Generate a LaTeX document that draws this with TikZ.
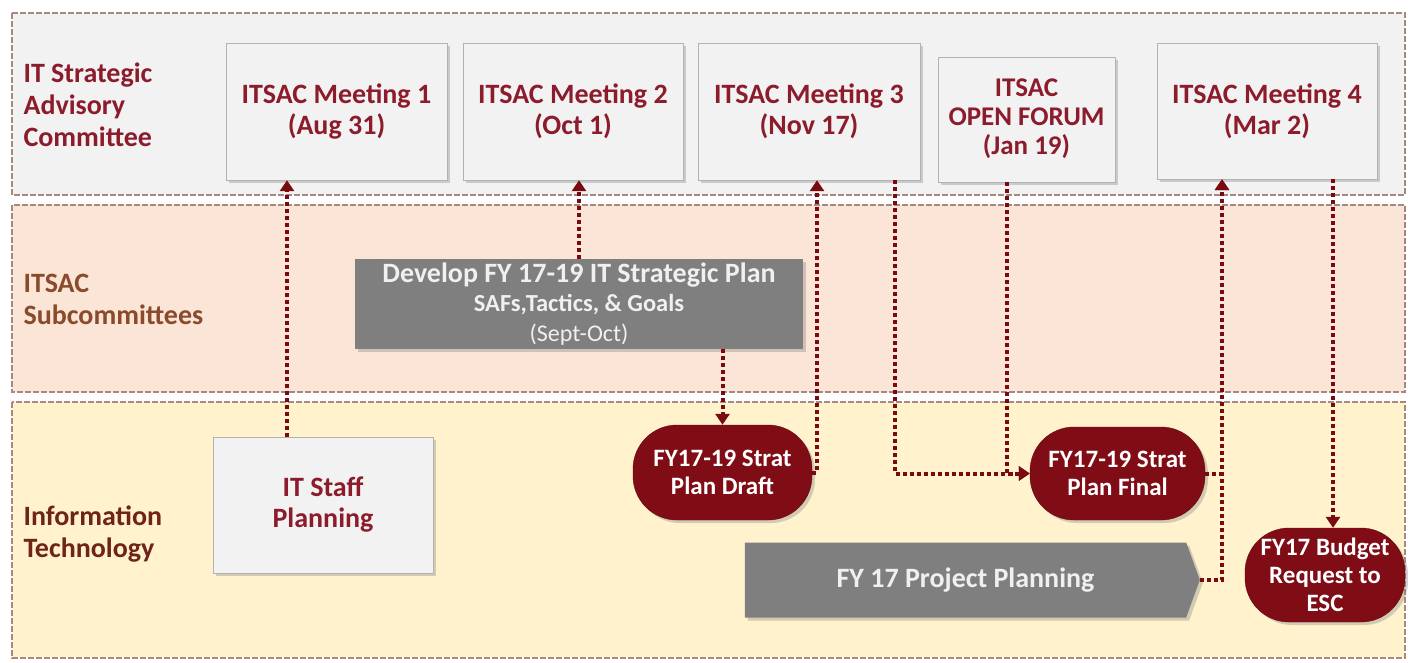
\documentclass[tikz,border=0pt]{standalone}
\usepackage{fontspec}
\setmainfont{Carlito}
\usetikzlibrary{shapes.symbols,arrows.meta,shadows}
\definecolor{lanegrey}{HTML}{F2F2F2}
\definecolor{lanepeach}{HTML}{FBE5D6}
\definecolor{laneyellow}{HTML}{FFF2CC}
\definecolor{laneline}{HTML}{A68A82}
\definecolor{itsacred}{HTML}{8C1C2C}
\definecolor{subbrown}{HTML}{8A4A2C}
\definecolor{itbrown}{HTML}{6E2418}
\definecolor{pillred}{HTML}{800C16}
\definecolor{flowred}{HTML}{780A10}
\definecolor{boxgrey}{HTML}{7F7F7F}

\begin{document}
\begin{tikzpicture}[x=1pt, y=-1pt,
  lane/.style={draw=laneline, line width=1.5pt, dash pattern=on 6pt off 2pt},
  lanelabel/.style={anchor=west, align=left, font=\fontsize{28}{32}\selectfont\bfseries},
  boxshadow/.style={drop shadow={shadow xshift=3pt, shadow yshift=-3pt, opacity=0.35}},
  meetbox/.style={rectangle, draw=black!30, fill=lanegrey, text=itsacred, align=center,
    inner sep=0pt, font=\fontsize{28}{31}\selectfont\bfseries, boxshadow},
  redpill/.style={rectangle, rounded corners=44pt, fill=pillred, draw=pillred!80!black, text=white,
    align=center, inner sep=0pt, font=\fontsize{25}{28}\selectfont\bfseries, boxshadow},
  greybox/.style={fill=boxgrey, text=white!94!black, align=center, inner sep=0pt, boxshadow},
  flow/.style={draw=flowred, line width=4pt, dash pattern=on 4pt off 3pt,
    -{Triangle[length=11pt,width=14pt]}}
]
% page and lanes
\fill[white] (0,0) rectangle (1408,662);
\useasboundingbox (0,0) rectangle (1408,662);
\filldraw[lane, fill=lanegrey] (12,13) rectangle (1405,195);
\filldraw[lane, fill=lanepeach] (12,205) rectangle (1405,392);
\filldraw[lane, fill=laneyellow] (12,402) rectangle (1405,658);

\node[lanelabel, text=itsacred] (lblsac) at (20,105) {IT Strategic\\Advisory\\Committee};
\node[lanelabel, text=subbrown] (lblsub) at (20,299) {ITSAC\\Subcommittees};
\node[lanelabel, text=itbrown] (lblit) at (20,534) {Information\\Technology};

% ITSAC meetings
\node[meetbox, minimum width=221, minimum height=137] (m1) at (336.5,111.5) {ITSAC Meeting 1\\(Aug 31)};
\node[meetbox, minimum width=220, minimum height=137] (m2) at (573,111.5) {ITSAC Meeting 2\\(Oct 1)};
\node[meetbox, minimum width=222, minimum height=137] (m3) at (809,111.5) {ITSAC Meeting 3\\(Nov 17)};
\node[meetbox, minimum width=177, minimum height=125, font=\fontsize{27}{29}\selectfont\bfseries] (forum) at (1026.5,119.5)
  {\raisebox{6pt}{\begin{tabular}{@{}c@{}}ITSAC\\OPEN FORUM\\(Jan 19)\end{tabular}}};
\node[meetbox, minimum width=220, minimum height=136] (m4) at (1267,111) {ITSAC Meeting 4\\(Mar 2)};

% subcommittees
\node[greybox, rectangle, minimum width=448, minimum height=90, font=\fontsize{28}{29.5}\selectfont\bfseries] (dev) at (579,304)
  {Develop FY 17-19 IT Strategic Plan\\{\fontsize{24.5}{29.5}\selectfont SAFs,Tactics, \& Goals}\\{\fontsize{24}{29.5}\selectfont\mdseries (Sept-Oct)}};

% information technology
\node[meetbox, minimum width=220, minimum height=136] (staff) at (323,505) {IT Staff\\Planning};
\node[redpill, minimum width=179, minimum height=95] (draft) at (722.5,472.5) {FY17-19 Strat\\Plan Draft};
\node[redpill, minimum width=175, minimum height=93] (final) at (1117.5,473.5) {FY17-19 Strat\\Plan Final};
\node[redpill, minimum width=160, minimum height=94] (budget) at (1325,575) {FY17 Budget\\Request to\\ESC};
\node[greybox, signal, signal to=east, signal pointer angle=140, minimum width=455, minimum height=75,
  font=\fontsize{28}{30}\selectfont\bfseries] (plan) at (965.5,580) {FY 17 Project Planning};

% connectors
\draw[flow] ([xshift=-36]staff.north) -- ([xshift=-36]staff.north |- m1.south);
\draw[flow] (dev.north) -- (dev.north |- m2.south);
\draw[flow] (dev.south -| draft.north) -- (draft.north);
\draw[flow] (draft.east) -| ([xshift=8]m3.south);
\draw[flow] ([xshift=86]m3.south) |- (final.west);
\draw[flow] ([xshift=-20]forum.south) |- (final.west);
\draw[flow] (final.east) -| ([xshift=-45]m4.south);
\draw[flow] (plan.east) -| ([xshift=-45]m4.south);
\draw[flow] ([xshift=66]m4.south) -- ([xshift=66]m4.south |- budget.north);
\end{tikzpicture}
\end{document}
